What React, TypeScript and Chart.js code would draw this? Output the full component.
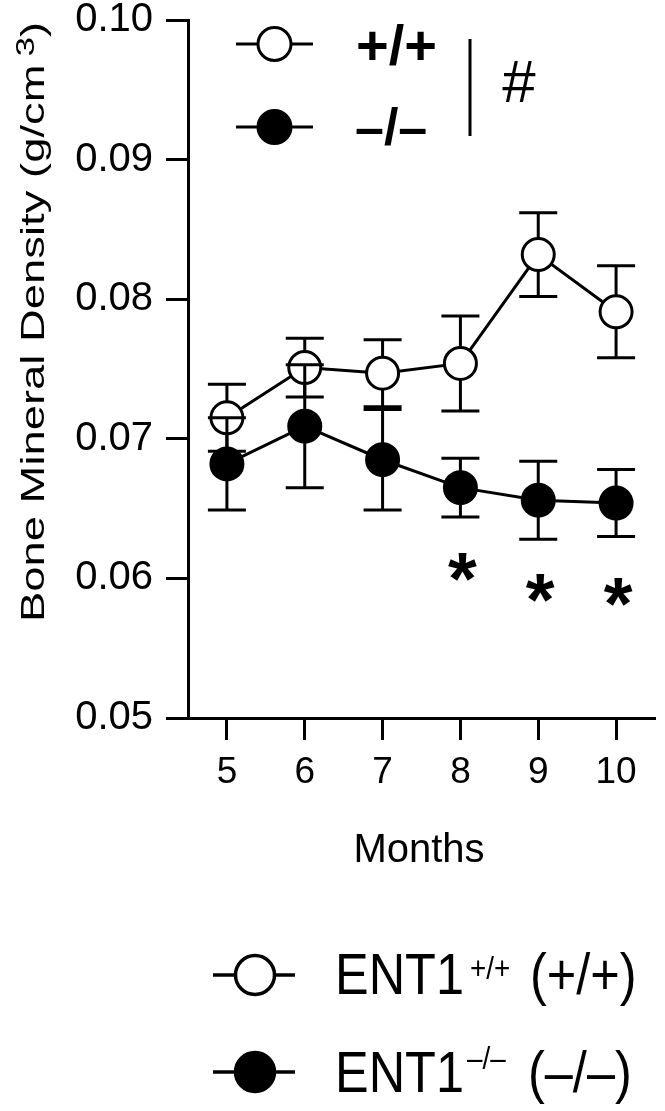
import React, { useEffect, useRef } from 'react';
import { Chart, registerables } from 'chart.js';

Chart.register(...registerables);

// ---- data ----
const months = [5, 6, 7, 8, 9, 10];
const wtMean = [0.0715, 0.0751, 0.0747, 0.0754, 0.0832, 0.0791];
const wtErr = [0.0024, 0.0021, 0.0024, 0.0034, 0.0030, 0.0033];
const koMean = [0.0682, 0.0709, 0.0685, 0.0665, 0.0656, 0.0654];
const koErr = [0.0033, 0.0044, 0.0036, 0.0021, 0.0028, 0.0024];
const starMonths = [8, 9, 10];
const starValues = [0.0608, 0.0593, 0.0590];
const yTicks = [0.05, 0.06, 0.07, 0.08, 0.09, 0.1];
const errorSets = [wtErr, koErr];

const FONT = '"Liberation Sans", Arial, Helvetica, sans-serif';

function drawText(ctx: CanvasRenderingContext2D, text: string, x: number, y: number, font: string, sx = 1, align: CanvasTextAlign = 'left') {
  ctx.save();
  ctx.font = font;
  ctx.fillStyle = '#000';
  ctx.textBaseline = 'alphabetic';
  ctx.textAlign = align;
  ctx.translate(x, y);
  ctx.scale(sx, 1);
  ctx.fillText(text, 0, 0);
  ctx.restore();
}

function drawCentered(ctx: CanvasRenderingContext2D, text: string, cx: number, cy: number, font: string) {
  ctx.save();
  ctx.font = font;
  ctx.fillStyle = '#000';
  ctx.textAlign = 'center';
  ctx.textBaseline = 'alphabetic';
  const m = ctx.measureText(text);
  const off = (m.actualBoundingBoxAscent - m.actualBoundingBoxDescent) / 2;
  ctx.fillText(text, cx, cy + off);
  ctx.restore();
}

function legendMarker(ctx: CanvasRenderingContext2D, cx: number, cy: number, x0: number, x1: number, r: number, lw: number, filled: boolean) {
  ctx.save();
  ctx.strokeStyle = '#000';
  ctx.lineWidth = lw;
  ctx.beginPath();
  ctx.moveTo(x0, cy);
  ctx.lineTo(x1, cy);
  ctx.stroke();
  ctx.beginPath();
  ctx.arc(cx, cy, r, 0, Math.PI * 2);
  ctx.fillStyle = filled ? '#000' : '#fff';
  ctx.fill();
  ctx.stroke();
  ctx.restore();
}

const errorBarPlugin = {
  id: 'errorBars',
  beforeDatasetDraw(chart: any, args: any) {
    const errs = errorSets[args.index];
    const ds = chart.data.datasets[args.index];
    if (!errs) return;
    const { ctx, scales } = chart;
    ctx.save();
    ctx.strokeStyle = '#000';
    ctx.lineWidth = 3;
    ds.data.forEach((p: any, i: number) => {
      const x = scales.x.getPixelForValue(p.x);
      const yTop = scales.y.getPixelForValue(p.y + errs[i]);
      const yBot = scales.y.getPixelForValue(p.y - errs[i]);
      ctx.beginPath();
      ctx.moveTo(x, yTop);
      ctx.lineTo(x, yBot);
      ctx.moveTo(x - 19, yTop);
      ctx.lineTo(x + 19, yTop);
      ctx.moveTo(x - 19, yBot);
      ctx.lineTo(x + 19, yBot);
      ctx.stroke();
    });
    ctx.restore();
  },
};

const annotationPlugin = {
  id: 'annotations',
  afterDatasetsDraw(chart: any) {
    const { ctx, scales } = chart;
    starMonths.forEach((m, i) => {
      const x = scales.x.getPixelForValue(m);
      const y = scales.y.getPixelForValue(starValues[i]);
      drawCentered(ctx, '*', x + 2, y, `bold 74px ${FONT}`);
    });
  },
  afterDraw(chart: any) {
    const { ctx } = chart;
    // top legend inside the plot
    legendMarker(ctx, 274.5, 44, 236, 313, 16.5, 3, false);
    legendMarker(ctx, 274.5, 127, 236, 313, 16.5, 3, true);
    drawText(ctx, '+/+', 356, 64, `bold 56px ${FONT}`);
    drawText(ctx, '\u2013/\u2013', 355, 145, `bold 52px ${FONT}`);
    ctx.save();
    ctx.strokeStyle = '#000';
    ctx.lineWidth = 3;
    ctx.beginPath();
    ctx.moveTo(470, 39);
    ctx.lineTo(470, 136);
    ctx.stroke();
    ctx.restore();
    drawCentered(ctx, '#', 519, 81, `60px ${FONT}`);

    // y axis title
    ctx.save();
    ctx.translate(44, 322);
    ctx.rotate(-Math.PI / 2);
    const mainFont = `33px ${FONT}`;
    const supFont = `25px ${FONT}`;
    ctx.font = mainFont;
    const main = 'Bone Mineral Density (g/cm';
    const wMain = ctx.measureText(main).width;
    const wClose = ctx.measureText(')').width;
    const gap = 6;
    ctx.font = supFont;
    const wSup = ctx.measureText('3').width;
    const total = wMain + gap + wSup + wClose;
    const sx = 600 / total;
    ctx.scale(sx, 1);
    ctx.fillStyle = '#000';
    ctx.textBaseline = 'alphabetic';
    ctx.textAlign = 'left';
    let x = -total / 2;
    ctx.font = mainFont;
    ctx.fillText(main, x, 0);
    x += wMain + gap;
    ctx.font = supFont;
    ctx.fillText('3', x, -10);
    x += wSup;
    ctx.font = mainFont;
    ctx.fillText(')', x, 0);
    ctx.restore();

    // x axis title
    drawCentered(ctx, 'Months', 419, 847, `40px ${FONT}`);

    // bottom legend
    legendMarker(ctx, 255, 975, 213, 295, 19.5, 3.5, false);
    legendMarker(ctx, 255, 1072, 213, 295, 19.5, 3.5, true);
    const bigFont = `58px ${FONT}`;
    const supF = `32px ${FONT}`;
    drawText(ctx, 'ENT1', 335, 994, bigFont, 0.87);
    drawText(ctx, '+/+', 470, 979, supF, 0.87);
    drawText(ctx, '(+/+)', 530, 994, bigFont, 0.87);
    drawText(ctx, 'ENT1', 335, 1092, bigFont, 0.87);
    drawText(ctx, '\u2013/\u2013', 467, 1069, supF, 0.87);
    drawText(ctx, '(\u2013/\u2013)', 528, 1092, bigFont, 0.87);
  },
};

export default function App() {
  const ref = useRef<HTMLCanvasElement | null>(null);

  useEffect(() => {
    document.body.style.margin = '0';
    if (!ref.current) return;
    Chart.defaults.font.family = FONT;
    Chart.defaults.color = '#000';
    const chart = new Chart(ref.current, {
      type: 'line',
      data: {
        datasets: [
          {
            label: '+/+',
            data: months.map((m, i) => ({ x: m, y: wtMean[i] })),
            borderColor: '#000',
            borderWidth: 3,
            backgroundColor: '#fff',
            pointBackgroundColor: '#fff',
            pointBorderColor: '#000',
            pointBorderWidth: 3,
            pointRadius: 16,
            pointHoverRadius: 16,
            tension: 0,
            fill: false,
            order: 2,
          },
          {
            label: '\u2013/\u2013',
            data: months.map((m, i) => ({ x: m, y: koMean[i] })),
            borderColor: '#000',
            borderWidth: 3,
            backgroundColor: '#000',
            pointBackgroundColor: '#000',
            pointBorderColor: '#000',
            pointBorderWidth: 3,
            pointRadius: 16,
            pointHoverRadius: 16,
            tension: 0,
            fill: false,
            order: 1,
          },
        ],
      },
      options: {
        animation: false,
        responsive: false,
        devicePixelRatio: 1,
        layout: { autoPadding: false, padding: { top: 20, right: 10, left: 0, bottom: 0 } },
        plugins: {
          legend: { display: false },
          tooltip: { enabled: false },
        },
        scales: {
          x: {
            type: 'linear',
            min: 4.5,
            max: 10.5,
            afterBuildTicks: (scale: any) => {
              scale.ticks = months.map((v) => ({ value: v }));
            },
            afterFit: (scale: any) => {
              scale.height = 393;
              scale.paddingLeft = 0;
              scale.paddingRight = 0;
            },
            grid: {
              drawOnChartArea: false,
              drawTicks: true,
              tickLength: 22,
              tickWidth: 3,
              tickColor: '#000',
            },
            border: { display: true, color: '#000', width: 3 },
            ticks: {
              font: { size: 37, family: FONT },
              color: '#000',
              padding: 11,
              maxRotation: 0,
              callback: (v: any) => String(v),
            },
          },
          y: {
            type: 'linear',
            min: 0.05,
            max: 0.1,
            afterBuildTicks: (scale: any) => {
              scale.ticks = yTicks.map((v) => ({ value: v }));
            },
            afterFit: (scale: any) => {
              scale.width = 188;
              scale.paddingTop = 0;
              scale.paddingBottom = 0;
            },
            grid: {
              drawOnChartArea: false,
              drawTicks: true,
              tickLength: 22,
              tickWidth: 3,
              tickColor: '#000',
            },
            border: { display: true, color: '#000', width: 3 },
            ticks: {
              font: { size: 40, family: FONT },
              color: '#000',
              padding: 13,
              callback: (v: any) => Number(v).toFixed(2),
            },
          },
        },
      },
      plugins: [errorBarPlugin, annotationPlugin],
    } as any);
    return () => chart.destroy();
  }, []);

  return (
    <div style={{ position: 'absolute', left: 0, top: 0, width: 665, height: 1111, background: '#fff' }}>
      <canvas ref={ref} width={665} height={1111} style={{ width: 665, height: 1111, display: 'block' }} />
    </div>
  );
}
